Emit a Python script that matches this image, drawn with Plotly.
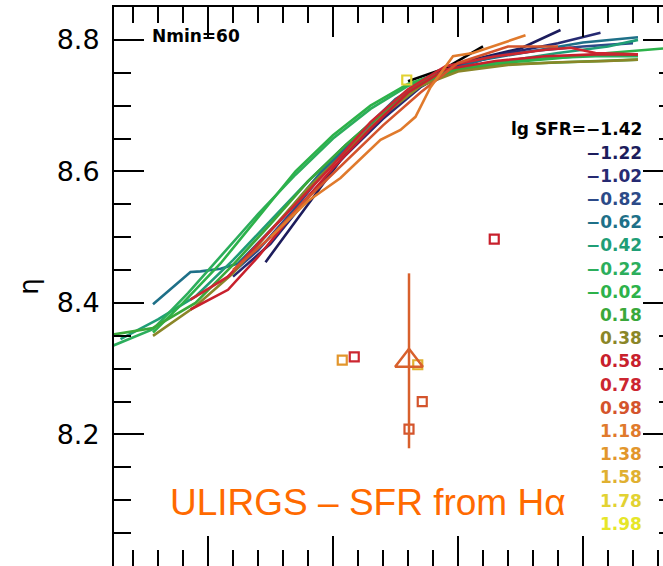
import plotly.graph_objects as go

# ---- data ----
sfr_labels = ["lg SFR=\u22121.42", "\u22121.22", "\u22121.02", "\u22120.82", "\u22120.62", "\u22120.42",
              "\u22120.22", "\u22120.02", "0.18", "0.38", "0.58", "0.78", "0.98", "1.18",
              "1.38", "1.58", "1.78", "1.98"]
sfr_colors = ["#000000", "#1c1c5c", "#262a72", "#2c4a88", "#1e7088", "#1f9e76",
              "#2cae5c", "#2db24a", "#3aa83a", "#8a8628", "#c8202c", "#cc2630",
              "#d4542c", "#e07a2c", "#e2962c", "#e0b030", "#e2d232", "#e6e628"]

line_x = [
    [9.80, 9.95, 10.10],
    [9.23, 9.37, 9.53, 9.69, 9.85, 10.05, 10.25, 10.41],
    [9.10, 9.25, 9.40, 9.55, 9.70, 9.85, 10.0, 10.2, 10.4, 10.57],
    [9.05, 9.20, 9.35, 9.50, 9.65, 9.80, 9.95, 10.1, 10.3, 10.5, 10.7],
    [8.78, 8.93, 8.97, 9.05, 9.12, 9.30, 9.45, 9.60, 9.75, 9.90, 10.1, 10.3, 10.5, 10.72],
    [8.65, 8.80, 8.95, 9.10, 9.25, 9.40, 9.55, 9.70, 9.85, 10.0, 10.2, 10.4, 10.6, 10.72],
    [8.62, 8.78, 8.92, 9.05, 9.20, 9.35, 9.50, 9.65, 9.80, 9.95, 10.15, 10.35, 10.55, 10.72],
    [8.78, 8.90, 9.05, 9.20, 9.35, 9.50, 9.65, 9.80, 9.95, 10.15, 10.4, 10.6, 10.82],
    [8.62, 8.78, 8.95, 9.10, 9.25, 9.40, 9.55, 9.70, 9.85, 10.0, 10.2, 10.4, 10.6, 10.72],
    [8.78, 8.95, 9.10, 9.25, 9.40, 9.55, 9.70, 9.85, 10.0, 10.2, 10.4, 10.6, 10.72],
    [8.93, 9.08, 9.20, 9.35, 9.50, 9.65, 9.80, 9.95, 10.15, 10.35, 10.55, 10.72],
    [8.93, 9.08, 9.20, 9.35, 9.50, 9.65, 9.80, 9.95, 10.15, 10.35, 10.45, 10.55, 10.72],
    [9.10, 9.25, 9.40, 9.55, 9.70, 9.85, 10.0, 10.2, 10.4],
    [9.25, 9.40, 9.53, 9.69, 9.77, 9.83, 9.89, 9.98, 10.06, 10.27],
]
line_y = [
    [8.737, 8.757, 8.790],
    [8.462, 8.534, 8.617, 8.678, 8.739, 8.769, 8.787, 8.815],
    [8.440, 8.490, 8.560, 8.625, 8.680, 8.728, 8.760, 8.780, 8.795, 8.811],
    [8.430, 8.480, 8.545, 8.615, 8.672, 8.722, 8.752, 8.772, 8.783, 8.790, 8.795],
    [8.398, 8.447, 8.448, 8.452, 8.460, 8.530, 8.598, 8.655, 8.710, 8.745, 8.770, 8.783, 8.796, 8.804],
    [8.345, 8.375, 8.410, 8.465, 8.525, 8.585, 8.640, 8.690, 8.730, 8.755, 8.768, 8.780, 8.790, 8.800],
    [8.335, 8.360, 8.415, 8.470, 8.535, 8.595, 8.650, 8.695, 8.730, 8.752, 8.765, 8.772, 8.775, 8.775],
    [8.355, 8.400, 8.460, 8.530, 8.600, 8.655, 8.700, 8.733, 8.752, 8.764, 8.772, 8.780, 8.787],
    [8.352, 8.362, 8.400, 8.458, 8.520, 8.585, 8.640, 8.690, 8.735, 8.755, 8.763, 8.766, 8.768, 8.770],
    [8.350, 8.395, 8.445, 8.510, 8.575, 8.630, 8.685, 8.730, 8.752, 8.762, 8.766, 8.768, 8.770],
    [8.390, 8.420, 8.470, 8.540, 8.605, 8.665, 8.720, 8.755, 8.768, 8.775, 8.778, 8.778],
    [8.405, 8.440, 8.490, 8.550, 8.610, 8.675, 8.725, 8.760, 8.775, 8.785, 8.788, 8.780, 8.778],
    [8.450, 8.500, 8.560, 8.615, 8.670, 8.720, 8.765, 8.790, 8.790],
    [8.500, 8.555, 8.590, 8.648, 8.663, 8.683, 8.728, 8.775, 8.780, 8.807],
]

# single-bin squares (x, y, SFR-bin index)
sq_x = [9.795, 10.145, 9.537, 9.585, 9.839, 9.857, 9.804]
sq_y = [8.739, 8.497, 8.313, 8.318, 8.306, 8.250, 8.208]
sq_bin = [16, 10, 14, 11, 15, 12, 12]

# ULIRG point with error bar
ulirg_x = [9.804]
ulirg_y = [8.312]
ulirg_err = [0.133]

y_ticks = [8.0, 8.2, 8.4, 8.6, 8.8]

fig = go.Figure()

for i, (xs, ys) in enumerate(zip(line_x, line_y)):
    fig.add_trace(go.Scatter(x=xs, y=ys, mode="lines",
                             line=dict(color=sfr_colors[i], width=2.6),
                             showlegend=False, hoverinfo="skip"))

for xv, yv, b in zip(sq_x, sq_y, sq_bin):
    fig.add_trace(go.Scatter(x=[xv], y=[yv], mode="markers",
                             marker=dict(symbol="square-open", size=9,
                                         color=sfr_colors[b], line=dict(width=2.2, color=sfr_colors[b])),
                             showlegend=False, hoverinfo="skip"))

fig.add_trace(go.Scatter(x=ulirg_x, y=ulirg_y, mode="markers",
                         marker=dict(symbol="triangle-up-open", size=24, color="#d8602c",
                                     line=dict(width=2.5, color="#d8602c")),
                         error_y=dict(type="data", array=ulirg_err, visible=True,
                                      color="#d8602c", thickness=2.5, width=0),
                         showlegend=False, hoverinfo="skip"))

# invisible trace to carry the right-hand tick axis
fig.add_trace(go.Scatter(x=[8.7], y=[8.1], yaxis="y2", mode="markers",
                         marker=dict(opacity=0), showlegend=False, hoverinfo="skip"))

# SFR labels on the right
for i, (lab, col) in enumerate(zip(sfr_labels, sfr_colors)):
    fig.add_annotation(x=0.966, y=0.781 - i * 0.0415, xref="paper", yref="paper",
                       text=lab, showarrow=False, xanchor="right", yanchor="middle",
                       font=dict(family="DejaVu Sans", size=17, color=col, weight="bold"))

fig.add_annotation(x=0.065, y=0.9475, xref="paper", yref="paper", text="Nmin=60",
                   showarrow=False, xanchor="left", yanchor="middle",
                   font=dict(family="DejaVu Sans", size=17, color="black", weight="bold"))

fig.add_annotation(x=0.463, y=0.113, xref="paper", yref="paper",
                   text="ULIRGS \u2013 SFR from H\u03b1", showarrow=False,
                   xanchor="center", yanchor="middle",
                   font=dict(family="Liberation Sans", size=37, color="#ff6a00"))

fig.update_layout(
    width=663, height=566,
    margin=dict(l=114, r=0, t=7, b=0),
    plot_bgcolor="white", paper_bgcolor="white",
    xaxis=dict(range=[8.624, 10.82], showgrid=False, zeroline=False,
               showline=True, linecolor="black", linewidth=2, mirror="ticks",
               ticks="inside", ticklen=30, tickwidth=2, tickcolor="black",
               tick0=9.0, dtick=0.5, showticklabels=False,
               minor=dict(ticks="inside", ticklen=16, tickwidth=2, tickcolor="black",
                          dtick=0.1, tick0=9.0, showgrid=False)),
    yaxis=dict(range=[8.0, 8.85], showgrid=False, zeroline=False,
               showline=True, linecolor="black", linewidth=2, mirror=False,
               ticks="inside", ticklen=30, tickwidth=2, tickcolor="black",
               tickvals=y_ticks, ticktext=[f"{v:.1f}" for v in y_ticks],
               tickfont=dict(family="DejaVu Sans", size=27, color="black"),
               ticklabelstandoff=7,
               minor=dict(ticks="inside", ticklen=17, tickwidth=2, tickcolor="black",
                          dtick=0.05, tick0=8.0, showgrid=False),
               title=dict(text="\u03b7", font=dict(family="DejaVu Sans", size=26, color="black"),
                          standoff=11)),
    yaxis2=dict(range=[8.0, 8.85], overlaying="y", side="right", anchor="x",
                showgrid=False, zeroline=False, showline=False,
                ticks="inside", ticklen=20, tickwidth=2, tickcolor="black",
                tickvals=y_ticks, showticklabels=False,
                minor=dict(ticks="inside", ticklen=4, tickwidth=2, tickcolor="black",
                           dtick=0.05, tick0=8.0, showgrid=False)),
)

fig.write_html("out.html", config={"displayModeBar": False},
               post_script="document.body.style.margin='0';document.documentElement.style.overflow='hidden';")
